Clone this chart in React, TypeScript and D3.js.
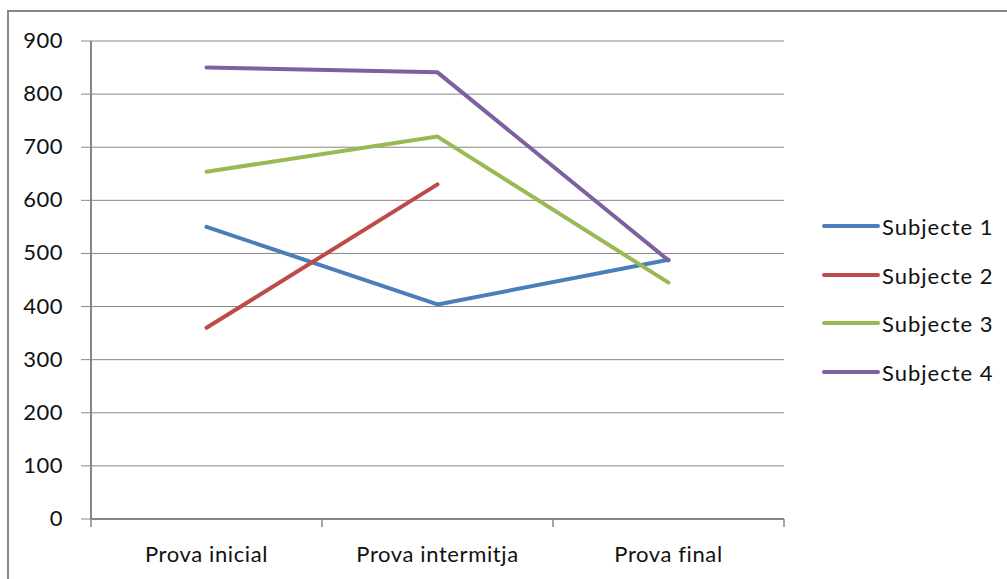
import React from "react";
import * as d3 from "d3";

const categories = ["Prova inicial", "Prova intermitja", "Prova final"];
const seriesNames = ["Subjecte 1", "Subjecte 2", "Subjecte 3", "Subjecte 4"];
const subjecte1: (number | null)[] = [550, 404, 488];
const subjecte2: (number | null)[] = [360, 630, null];
const subjecte3: (number | null)[] = [654, 720, 445];
const subjecte4: (number | null)[] = [850, 841, 487];
const yTicks = [0, 100, 200, 300, 400, 500, 600, 700, 800, 900];
const colors = ["#4A7EBB", "#BE4B48", "#98B954", "#7D60A0"];

const W = 1007;
const H = 579;
const plot = { left: 91, right: 784, top: 41, bottom: 519 };
const FONT = "Lato, 'Open Sans', sans-serif";
const AXIS = "#868686";
const TEXT = "#111";

export default function App() {
  const x = d3
    .scaleBand<string>()
    .domain(categories)
    .range([plot.left, plot.right]);
  const y = d3.scaleLinear().domain([0, 900]).range([plot.bottom, plot.top]);
  const allSeries = [subjecte1, subjecte2, subjecte3, subjecte4];
  const line = d3
    .line<number | null>()
    .defined((d) => d !== null)
    .x((_, i) => (x(categories[i]) as number) + x.bandwidth() / 2)
    .y((d) => y(d as number));

  const boundaries = [...categories.map((c) => x(c) as number), plot.right];
  const legendY = [226, 275, 323, 372];

  return (
    <div style={{ position: "absolute", left: 0, top: 0 }}>
      <svg width={W} height={H} style={{ display: "block", background: "#fff" }}>
        <rect x={8} y={11} width={W + 10} height={H + 10} fill="#fff" stroke={AXIS} strokeWidth={2} />
        {yTicks.map((t) => (
          <g key={t}>
            {t > 0 && (
              <line x1={plot.left} x2={plot.right} y1={y(t)} y2={y(t)} stroke={AXIS} strokeWidth={1} />
            )}
            <line x1={plot.left - 10} x2={plot.left} y1={y(t)} y2={y(t)} stroke={AXIS} strokeWidth={1} />
            <text
              x={63}
              y={y(t) + 7}
              textAnchor="end"
              fontFamily={FONT}
              fontSize={22}
              letterSpacing={0.5}
              fill={TEXT}
            >
              {t}
            </text>
          </g>
        ))}
        {boundaries.map((b, i) => (
          <line key={i} x1={b} x2={b} y1={plot.bottom} y2={plot.bottom + 8} stroke={AXIS} strokeWidth={1.5} />
        ))}
        <line x1={plot.left} x2={plot.left} y1={plot.top} y2={plot.bottom} stroke={AXIS} strokeWidth={2} />
        <line x1={plot.left} x2={plot.right} y1={plot.bottom} y2={plot.bottom} stroke={AXIS} strokeWidth={2} />
        {categories.map((c) => (
          <text
            key={c}
            x={(x(c) as number) + x.bandwidth() / 2}
            y={562}
            textAnchor="middle"
            fontFamily={FONT}
            fontSize={22}
            letterSpacing={0.6}
            fill={TEXT}
          >
            {c}
          </text>
        ))}
        {allSeries.map((s, i) => (
          <path
            key={i}
            d={line(s) ?? ""}
            fill="none"
            stroke={colors[i]}
            strokeWidth={4}
            strokeLinejoin="round"
            strokeLinecap="round"
          />
        ))}
        {seriesNames.map((n, i) => (
          <g key={n}>
            <line x1={824} x2={878} y1={legendY[i]} y2={legendY[i]} stroke={colors[i]} strokeWidth={4} strokeLinecap="round" />
            <text x={882} y={legendY[i] + 9} fontFamily={FONT} fontSize={22} letterSpacing={1} fill={TEXT}>
              {n}
            </text>
          </g>
        ))}
      </svg>
    </div>
  );
}
